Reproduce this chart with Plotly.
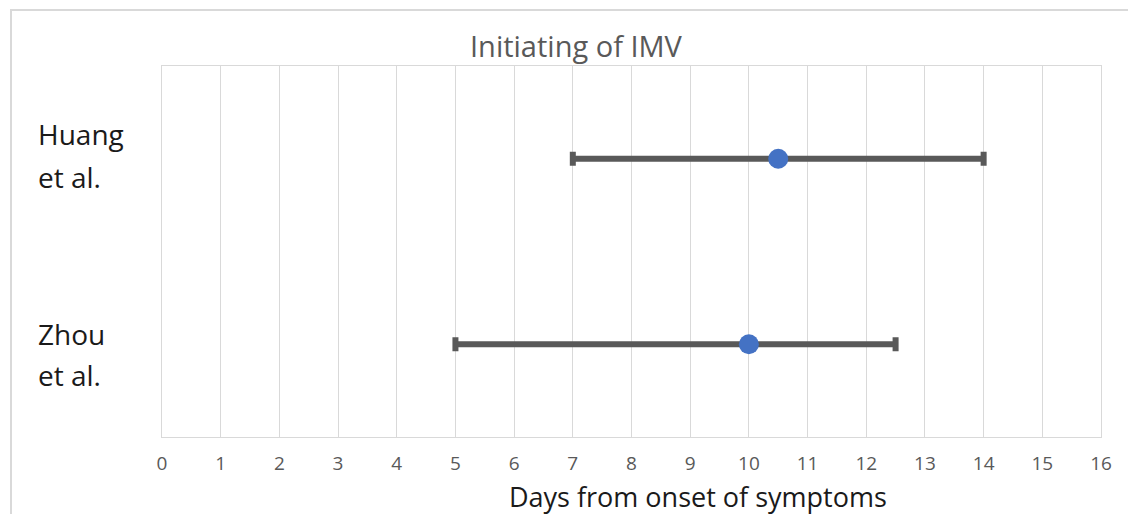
import plotly.graph_objects as go

studies = ["Zhou<br>et al.", "Huang<br>et al."]
median_days = [10.0, 10.5]
low_days = [5.0, 7.0]
high_days = [12.5, 14.0]
x_ticks = list(range(0, 17))

err_plus = [h - m for h, m in zip(high_days, median_days)]
err_minus = [m - l for m, l in zip(median_days, low_days)]

W, H = 1128, 514
L, R, T, B = 162, 27, 66, 77
pw, ph = W - L - R, H - T - B

def px(x):
    return (x - L) / pw

def py(y):
    return (H - B - y) / ph

FONT = "Open Sans, Liberation Sans, sans-serif"

fig = go.Figure()
fig.add_trace(go.Scatter(
    x=median_days, y=studies, mode="markers",
    marker=dict(color="#4472C4", size=20),
    error_x=dict(type="data", symmetric=False, array=err_plus, arrayminus=err_minus,
                 color="#595959", thickness=6, width=7),
    showlegend=False,
))

fig.update_layout(
    width=W, height=H,
    margin=dict(l=L, r=R, t=T, b=B),
    paper_bgcolor="white", plot_bgcolor="white",
    font=dict(family=FONT),
    xaxis=dict(range=[0, 16], tickvals=x_ticks, ticktext=[str(v) for v in x_ticks],
               showgrid=True, gridcolor="#D9D9D9", gridwidth=1,
               showline=True, linecolor="#D9D9D9", linewidth=1, mirror=True,
               zeroline=False, ticks="", ticklen=0, ticklabelstandoff=9,
               tickfont=dict(size=19, color="#595959", family=FONT)),
    yaxis=dict(type="category", categoryorder="array", categoryarray=studies,
               range=[-0.5, 1.5], showticklabels=False, showgrid=False, zeroline=False,
               showline=True, linecolor="#D9D9D9", linewidth=1, mirror=True),
    shapes=[dict(type="rect", xref="paper", yref="paper",
                 x0=px(11), x1=px(1150), y0=py(540), y1=py(10),
                 line=dict(color="#D9D9D9", width=2), fillcolor="rgba(0,0,0,0)", layer="below")],
)

# study labels: two lines each, placed with Excel-like line spacing
label_rows = {"Huang<br>et al.": (134, 177), "Zhou<br>et al.": (334, 375)}
for s in studies:
    parts = s.split("<br>")
    for part, ypix in zip(parts, label_rows[s]):
        fig.add_annotation(x=px(36), y=py(ypix), xref="paper", yref="paper", text=part,
                           showarrow=False, xanchor="left", yanchor="middle", align="left",
                           font=dict(size=28, color="#1a1a1a", family=FONT))

fig.add_annotation(x=px(576), y=py(46), xref="paper", yref="paper", text="Initiating of IMV",
                   showarrow=False, xanchor="center", yanchor="middle",
                   font=dict(size=29, color="#595959", family=FONT))
fig.add_annotation(x=px(698), y=py(496), xref="paper", yref="paper",
                   text="Days from onset of symptoms", showarrow=False,
                   xanchor="center", yanchor="middle",
                   font=dict(size=27, color="#1a1a1a", family=FONT))

fig.write_html("out.html", config={"displayModeBar": False},
               post_script="document.body.style.margin='0';document.body.style.overflow='hidden';")
